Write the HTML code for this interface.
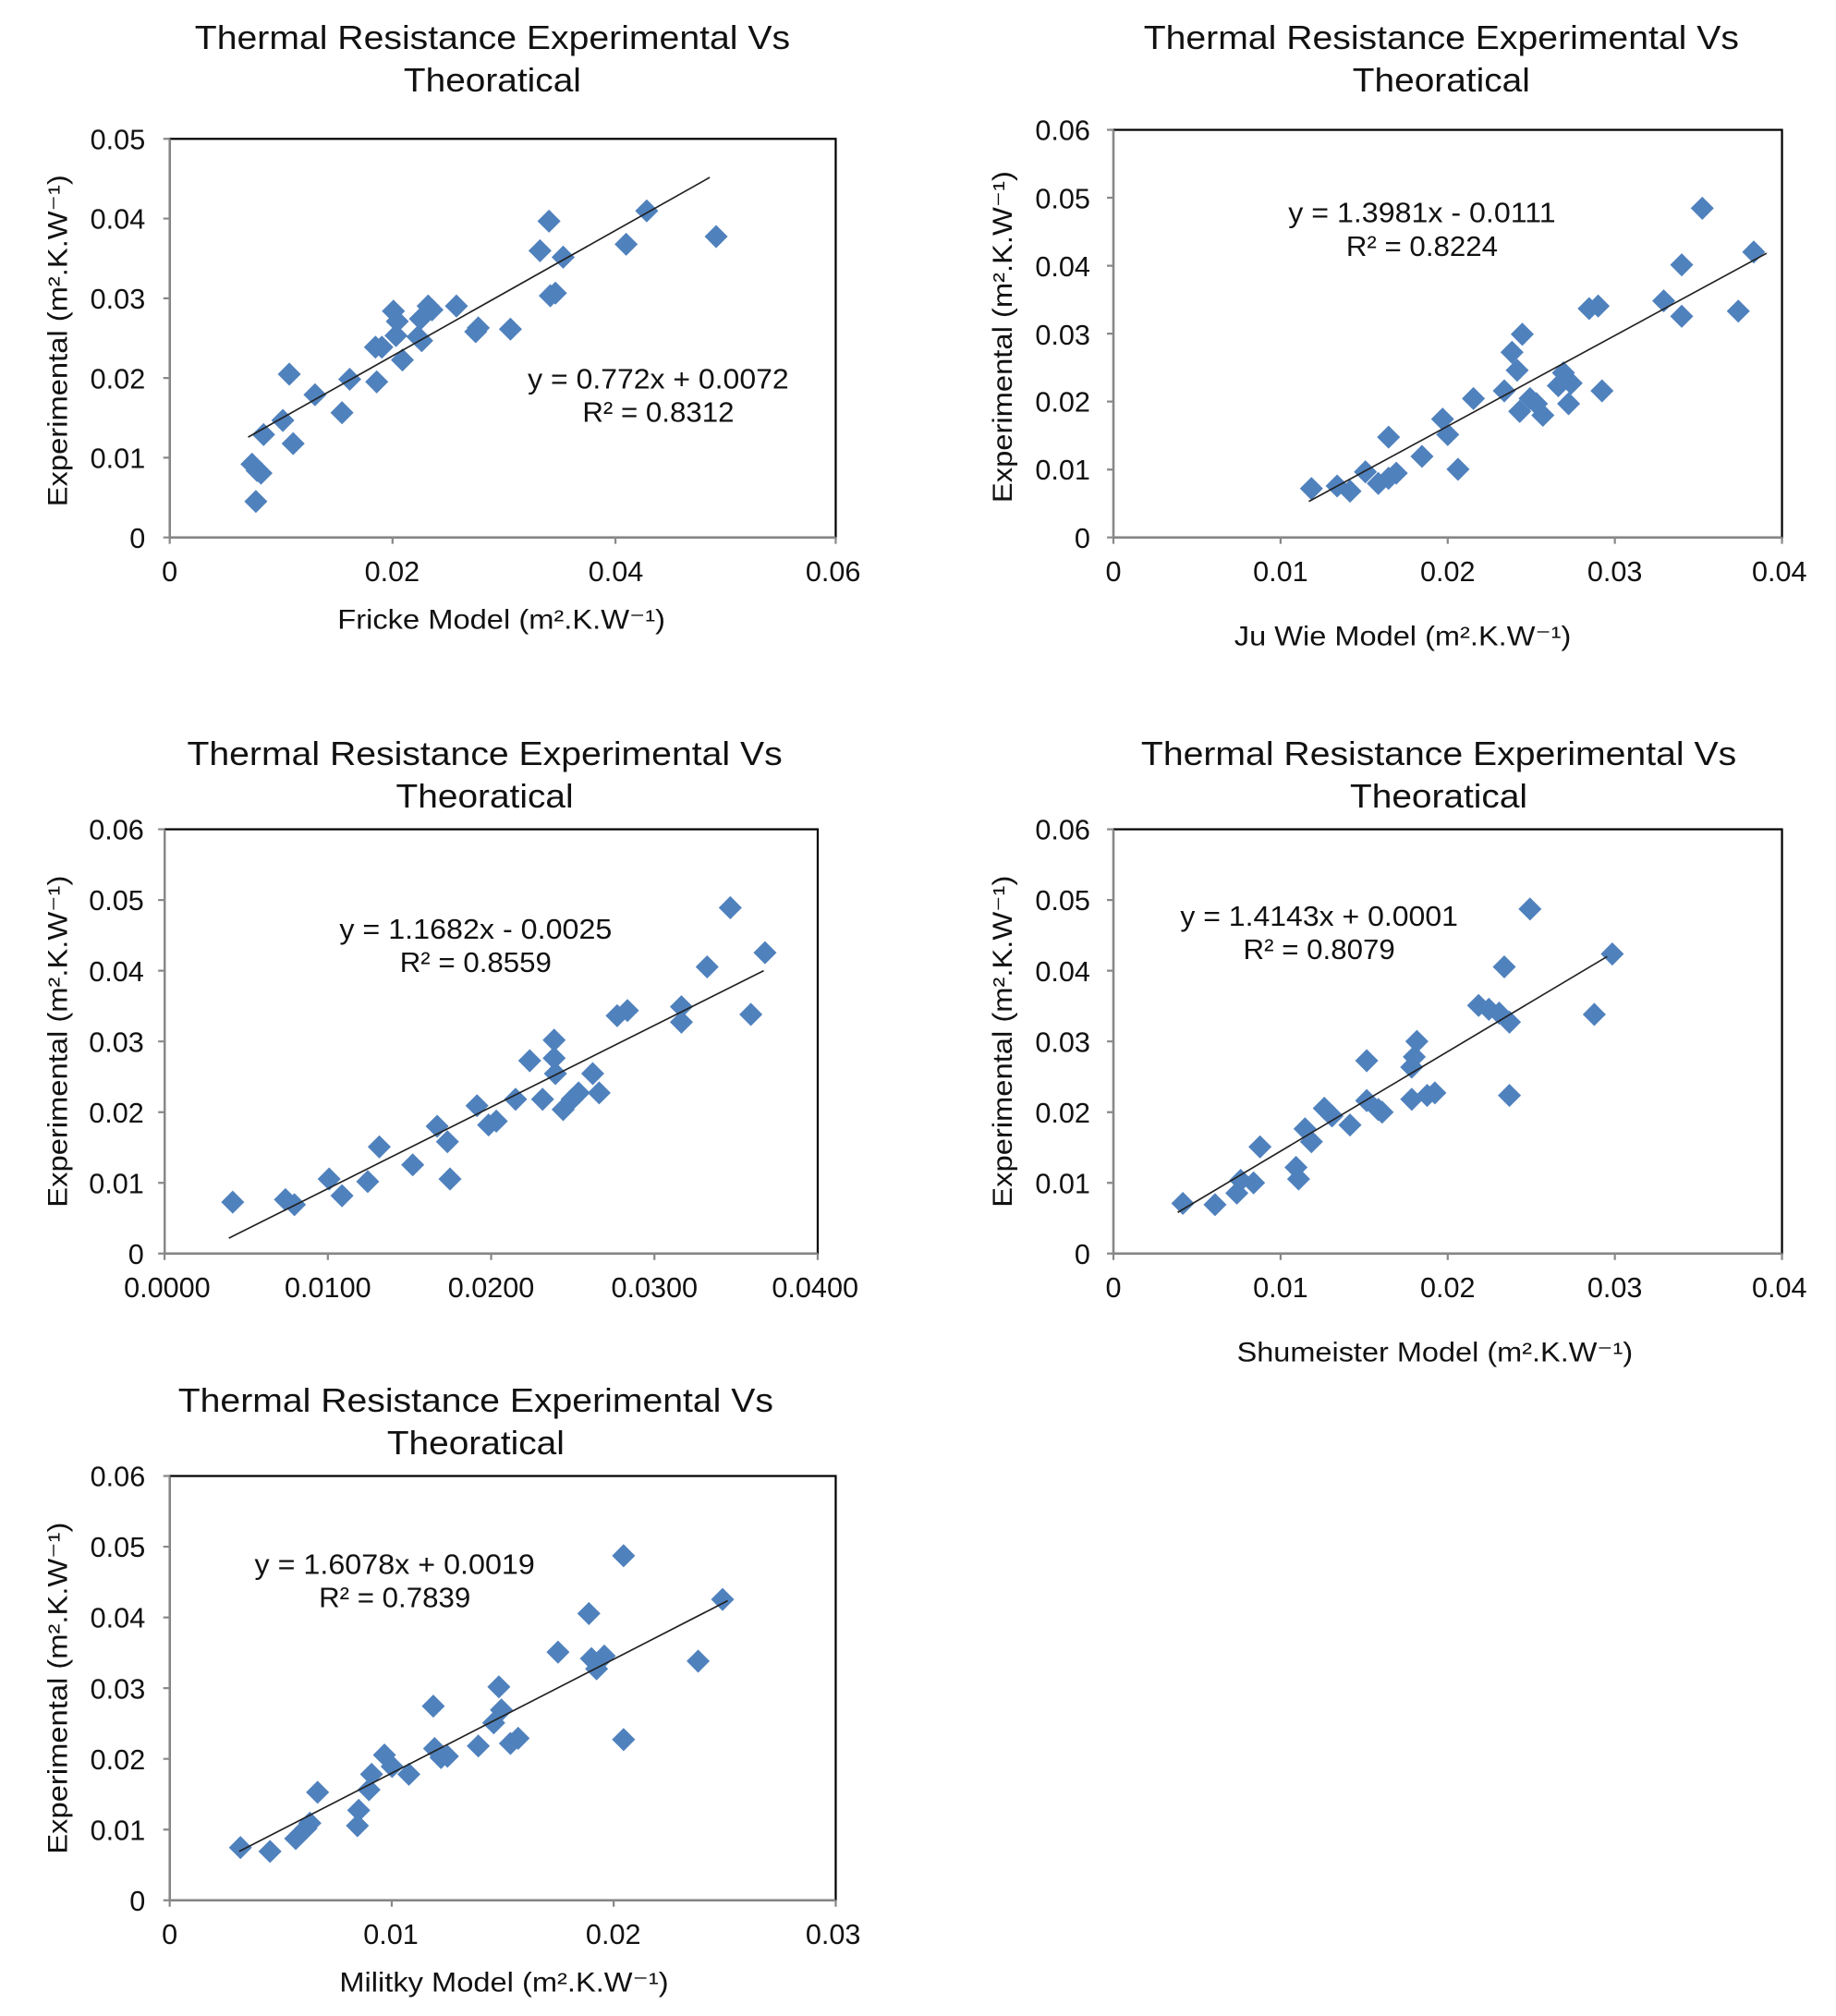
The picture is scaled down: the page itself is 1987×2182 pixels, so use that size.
<!DOCTYPE html>
<html><head><meta charset="utf-8"><style>html,body{margin:0;padding:0;background:#fff}svg{display:block}</style></head>
<body>
<svg width="1987" height="2182" viewBox="0 0 1428 1568" preserveAspectRatio="none" xmlns="http://www.w3.org/2000/svg" font-family="'Liberation Sans', sans-serif" fill="#111">
<defs>
<path id="d" d="M0,-9 L9,0 L0,9 L-9,0 Z" fill="#4f81bd"/>
</defs>
<style>
.t{font-size:26px;text-anchor:middle}
.ky{font-size:22px;text-anchor:end}
.kx{font-size:22px;text-anchor:middle}
.al{font-size:21px;text-anchor:middle}
.eq{font-size:22px;text-anchor:middle}
.box{fill:none;stroke:#000;stroke-width:1.6}
.ax{stroke:#888;stroke-width:1.6;fill:none}
.tr{stroke:#222;stroke-width:1.2}
</style>

<!-- Chart 1 -->
<text class="t" x="383" y="38" textLength="463" lengthAdjust="spacingAndGlyphs">Thermal Resistance Experimental Vs</text>
<text class="t" x="383" y="71" textLength="138" lengthAdjust="spacingAndGlyphs">Theoratical</text>
<rect class="box" x="132" y="108" width="518" height="310"/>
<path class="ax" d="M132,108 V418 H650 M127,108H132 M127,170H132 M127,232H132 M127,294H132 M127,356H132 M127,418H132 M132,418V423 M305.3,418V423 M478.7,418V423 M650,418V423"/>
<g class="ky"><text x="113" y="116">0.05</text><text x="113" y="178">0.04</text><text x="113" y="240">0.03</text><text x="113" y="302">0.02</text><text x="113" y="364">0.01</text><text x="113" y="426">0</text></g>
<g class="kx"><text x="132" y="452">0</text><text x="305" y="452">0.02</text><text x="479" y="452">0.04</text><text x="648" y="452">0.06</text></g>
<text class="al" x="390" y="489" textLength="255" lengthAdjust="spacingAndGlyphs">Fricke Model (m².K.W⁻¹)</text>
<text class="al" transform="translate(52,265) rotate(-90)" textLength="258" lengthAdjust="spacingAndGlyphs">Experimental (m².K.W⁻¹)</text>
<g>
<use href="#d" x="196" y="361"/><use href="#d" x="200" y="366"/><use href="#d" x="203" y="368"/><use href="#d" x="199" y="390"/><use href="#d" x="205" y="338"/><use href="#d" x="220" y="327"/><use href="#d" x="225" y="291"/><use href="#d" x="228" y="345"/><use href="#d" x="245" y="307"/><use href="#d" x="272" y="295"/><use href="#d" x="266" y="321"/><use href="#d" x="293" y="297"/><use href="#d" x="292" y="270"/><use href="#d" x="297" y="270"/><use href="#d" x="308" y="261"/><use href="#d" x="313" y="280"/><use href="#d" x="306" y="242"/><use href="#d" x="309" y="250"/><use href="#d" x="325" y="262"/><use href="#d" x="327" y="248"/><use href="#d" x="328" y="265"/><use href="#d" x="336" y="241"/><use href="#d" x="333" y="238"/><use href="#d" x="355" y="238"/><use href="#d" x="370" y="258"/><use href="#d" x="372" y="255"/><use href="#d" x="397" y="256"/><use href="#d" x="420" y="195"/><use href="#d" x="427" y="172"/><use href="#d" x="428" y="230"/><use href="#d" x="432" y="228"/><use href="#d" x="438" y="200"/><use href="#d" x="487" y="190"/><use href="#d" x="503" y="164"/><use href="#d" x="557" y="184"/>
</g>
<line class="tr" x1="193" y1="340" x2="552" y2="138"/>
<text class="eq" x="512" y="302" textLength="203" lengthAdjust="spacingAndGlyphs">y = 0.772x + 0.0072</text>
<text class="eq" x="512" y="328" textLength="118" lengthAdjust="spacingAndGlyphs">R² = 0.8312</text>

<!-- Chart 2 -->
<text class="t" x="1121" y="38" textLength="463" lengthAdjust="spacingAndGlyphs">Thermal Resistance Experimental Vs</text>
<text class="t" x="1121" y="71" textLength="138" lengthAdjust="spacingAndGlyphs">Theoratical</text>
<rect class="box" x="866" y="101" width="520" height="317"/>
<path class="ax" d="M866,101 V418 H1386 M861,101H866 M861,153.8H866 M861,206.7H866 M861,259.5H866 M861,312.3H866 M861,365.2H866 M861,418H866 M866,418V423 M996,418V423 M1126,418V423 M1256,418V423 M1386,418V423"/>
<g class="ky"><text x="848" y="109">0.06</text><text x="848" y="162">0.05</text><text x="848" y="215">0.04</text><text x="848" y="268">0.03</text><text x="848" y="320">0.02</text><text x="848" y="373">0.01</text><text x="848" y="426">0</text></g>
<g class="kx"><text x="866" y="452">0</text><text x="996" y="452">0.01</text><text x="1126" y="452">0.02</text><text x="1256" y="452">0.03</text><text x="1384" y="452">0.04</text></g>
<text class="al" x="1091" y="502" textLength="262" lengthAdjust="spacingAndGlyphs">Ju Wie Model (m².K.W⁻¹)</text>
<text class="al" transform="translate(787,262) rotate(-90)" textLength="258" lengthAdjust="spacingAndGlyphs">Experimental (m².K.W⁻¹)</text>
<g>
<use href="#d" x="1020" y="380"/><use href="#d" x="1040" y="378"/><use href="#d" x="1050" y="382"/><use href="#d" x="1062" y="367"/><use href="#d" x="1072" y="376"/><use href="#d" x="1080" y="340"/><use href="#d" x="1080" y="372"/><use href="#d" x="1086" y="368"/><use href="#d" x="1106" y="355"/><use href="#d" x="1122" y="326"/><use href="#d" x="1126" y="338"/><use href="#d" x="1134" y="365"/><use href="#d" x="1146" y="310"/><use href="#d" x="1170" y="304"/><use href="#d" x="1176" y="274"/><use href="#d" x="1180" y="288"/><use href="#d" x="1184" y="260"/><use href="#d" x="1182" y="320"/><use href="#d" x="1190" y="310"/><use href="#d" x="1195" y="314"/><use href="#d" x="1200" y="323"/><use href="#d" x="1212" y="300"/><use href="#d" x="1216" y="290"/><use href="#d" x="1220" y="314"/><use href="#d" x="1222" y="298"/><use href="#d" x="1236" y="240"/><use href="#d" x="1243" y="238"/><use href="#d" x="1246" y="304"/><use href="#d" x="1294" y="234"/><use href="#d" x="1308" y="206"/><use href="#d" x="1308" y="246"/><use href="#d" x="1324" y="162"/><use href="#d" x="1352" y="242"/><use href="#d" x="1364" y="196"/>
</g>
<line class="tr" x1="1018" y1="390" x2="1374" y2="197"/>
<text class="eq" x="1106" y="173" textLength="208" lengthAdjust="spacingAndGlyphs">y = 1.3981x - 0.0111</text>
<text class="eq" x="1106" y="199" textLength="118" lengthAdjust="spacingAndGlyphs">R² = 0.8224</text>

<!-- Chart 3 -->
<text class="t" x="377" y="595" textLength="463" lengthAdjust="spacingAndGlyphs">Thermal Resistance Experimental Vs</text>
<text class="t" x="377" y="628" textLength="138" lengthAdjust="spacingAndGlyphs">Theoratical</text>
<rect class="box" x="128" y="645" width="508" height="330"/>
<path class="ax" d="M128,645 V975 H636 M123,645H128 M123,700H128 M123,755H128 M123,810H128 M123,865H128 M123,920H128 M123,975H128 M128,975V980 M255,975V980 M382,975V980 M509,975V980 M636,975V980"/>
<g class="ky"><text x="112" y="653">0.06</text><text x="112" y="708">0.05</text><text x="112" y="763">0.04</text><text x="112" y="818">0.03</text><text x="112" y="873">0.02</text><text x="112" y="928">0.01</text><text x="112" y="983">0</text></g>
<g class="kx"><text x="130" y="1009">0.0000</text><text x="255" y="1009">0.0100</text><text x="382" y="1009">0.0200</text><text x="509" y="1009">0.0300</text><text x="634" y="1009">0.0400</text></g>
<text class="al" transform="translate(52,810) rotate(-90)" textLength="258" lengthAdjust="spacingAndGlyphs">Experimental (m².K.W⁻¹)</text>
<g>
<use href="#d" x="181" y="935"/><use href="#d" x="222" y="933"/><use href="#d" x="229" y="937"/><use href="#d" x="256" y="917"/><use href="#d" x="266" y="930"/><use href="#d" x="286" y="919"/><use href="#d" x="295" y="892"/><use href="#d" x="321" y="906"/><use href="#d" x="340" y="876"/><use href="#d" x="350" y="917"/><use href="#d" x="348" y="888"/><use href="#d" x="371" y="860"/><use href="#d" x="380" y="875"/><use href="#d" x="386" y="872"/><use href="#d" x="401" y="855"/><use href="#d" x="412" y="825"/><use href="#d" x="422" y="855"/><use href="#d" x="431" y="823"/><use href="#d" x="431" y="809"/><use href="#d" x="432" y="835"/><use href="#d" x="438" y="863"/><use href="#d" x="445" y="855"/><use href="#d" x="450" y="850"/><use href="#d" x="461" y="835"/><use href="#d" x="466" y="850"/><use href="#d" x="480" y="790"/><use href="#d" x="488" y="786"/><use href="#d" x="530" y="783"/><use href="#d" x="530" y="795"/><use href="#d" x="550" y="752"/><use href="#d" x="568" y="706"/><use href="#d" x="584" y="789"/><use href="#d" x="595" y="741"/>
</g>
<line class="tr" x1="178" y1="963" x2="594" y2="755"/>
<text class="eq" x="370" y="730" textLength="212" lengthAdjust="spacingAndGlyphs">y = 1.1682x - 0.0025</text>
<text class="eq" x="370" y="756" textLength="118" lengthAdjust="spacingAndGlyphs">R² = 0.8559</text>

<!-- Chart 4 -->
<text class="t" x="1119" y="595" textLength="463" lengthAdjust="spacingAndGlyphs">Thermal Resistance Experimental Vs</text>
<text class="t" x="1119" y="628" textLength="138" lengthAdjust="spacingAndGlyphs">Theoratical</text>
<rect class="box" x="866" y="645" width="520" height="330"/>
<path class="ax" d="M866,645 V975 H1386 M861,645H866 M861,700H866 M861,755H866 M861,810H866 M861,865H866 M861,920H866 M861,975H866 M866,975V980 M996,975V980 M1126,975V980 M1256,975V980 M1386,975V980"/>
<g class="ky"><text x="848" y="653">0.06</text><text x="848" y="708">0.05</text><text x="848" y="763">0.04</text><text x="848" y="818">0.03</text><text x="848" y="873">0.02</text><text x="848" y="928">0.01</text><text x="848" y="983">0</text></g>
<g class="kx"><text x="866" y="1009">0</text><text x="996" y="1009">0.01</text><text x="1126" y="1009">0.02</text><text x="1256" y="1009">0.03</text><text x="1384" y="1009">0.04</text></g>
<text class="al" x="1116" y="1059" textLength="308" lengthAdjust="spacingAndGlyphs">Shumeister Model (m².K.W⁻¹)</text>
<text class="al" transform="translate(787,810) rotate(-90)" textLength="258" lengthAdjust="spacingAndGlyphs">Experimental (m².K.W⁻¹)</text>
<g>
<use href="#d" x="920" y="936"/><use href="#d" x="945" y="937"/><use href="#d" x="962" y="928"/><use href="#d" x="965" y="918"/><use href="#d" x="975" y="920"/><use href="#d" x="980" y="892"/><use href="#d" x="1008" y="908"/><use href="#d" x="1010" y="917"/><use href="#d" x="1015" y="878"/><use href="#d" x="1020" y="888"/><use href="#d" x="1030" y="862"/><use href="#d" x="1036" y="868"/><use href="#d" x="1050" y="875"/><use href="#d" x="1063" y="825"/><use href="#d" x="1063" y="856"/><use href="#d" x="1072" y="863"/><use href="#d" x="1075" y="865"/><use href="#d" x="1098" y="855"/><use href="#d" x="1098" y="830"/><use href="#d" x="1100" y="822"/><use href="#d" x="1102" y="810"/><use href="#d" x="1110" y="852"/><use href="#d" x="1116" y="850"/><use href="#d" x="1150" y="782"/><use href="#d" x="1158" y="785"/><use href="#d" x="1166" y="788"/><use href="#d" x="1170" y="752"/><use href="#d" x="1174" y="795"/><use href="#d" x="1174" y="852"/><use href="#d" x="1190" y="707"/><use href="#d" x="1240" y="789"/><use href="#d" x="1254" y="742"/>
</g>
<line class="tr" x1="916" y1="943" x2="1250" y2="744"/>
<text class="eq" x="1026" y="720" textLength="216" lengthAdjust="spacingAndGlyphs">y = 1.4143x + 0.0001</text>
<text class="eq" x="1026" y="746" textLength="118" lengthAdjust="spacingAndGlyphs">R² = 0.8079</text>

<!-- Chart 5 -->
<text class="t" x="370" y="1098" textLength="463" lengthAdjust="spacingAndGlyphs">Thermal Resistance Experimental Vs</text>
<text class="t" x="370" y="1131" textLength="138" lengthAdjust="spacingAndGlyphs">Theoratical</text>
<rect class="box" x="132" y="1148" width="518" height="330"/>
<path class="ax" d="M132,1148 V1478 H650 M127,1148H132 M127,1203H132 M127,1258H132 M127,1313H132 M127,1368H132 M127,1423H132 M127,1478H132 M132,1478V1483 M304.7,1478V1483 M477.3,1478V1483 M650,1478V1483"/>
<g class="ky"><text x="113" y="1156">0.06</text><text x="113" y="1211">0.05</text><text x="113" y="1266">0.04</text><text x="113" y="1321">0.03</text><text x="113" y="1376">0.02</text><text x="113" y="1431">0.01</text><text x="113" y="1486">0</text></g>
<g class="kx"><text x="132" y="1512">0</text><text x="304" y="1512">0.01</text><text x="477" y="1512">0.02</text><text x="648" y="1512">0.03</text></g>
<text class="al" x="392" y="1549" textLength="256" lengthAdjust="spacingAndGlyphs">Militky Model (m².K.W⁻¹)</text>
<text class="al" transform="translate(52,1313) rotate(-90)" textLength="258" lengthAdjust="spacingAndGlyphs">Experimental (m².K.W⁻¹)</text>
<g>
<use href="#d" x="187" y="1437"/><use href="#d" x="210" y="1440"/><use href="#d" x="230" y="1430"/><use href="#d" x="238" y="1422"/><use href="#d" x="241" y="1418"/><use href="#d" x="247" y="1394"/><use href="#d" x="278" y="1420"/><use href="#d" x="279" y="1408"/><use href="#d" x="287" y="1392"/><use href="#d" x="289" y="1380"/><use href="#d" x="299" y="1365"/><use href="#d" x="305" y="1374"/><use href="#d" x="318" y="1380"/><use href="#d" x="337" y="1327"/><use href="#d" x="338" y="1360"/><use href="#d" x="343" y="1367"/><use href="#d" x="348" y="1366"/><use href="#d" x="372" y="1358"/><use href="#d" x="384" y="1340"/><use href="#d" x="388" y="1312"/><use href="#d" x="390" y="1330"/><use href="#d" x="397" y="1356"/><use href="#d" x="403" y="1352"/><use href="#d" x="434" y="1285"/><use href="#d" x="458" y="1255"/><use href="#d" x="460" y="1290"/><use href="#d" x="464" y="1298"/><use href="#d" x="470" y="1288"/><use href="#d" x="485" y="1353"/><use href="#d" x="485" y="1210"/><use href="#d" x="543" y="1292"/><use href="#d" x="562" y="1244"/>
</g>
<line class="tr" x1="186" y1="1440" x2="566" y2="1245"/>
<text class="eq" x="307" y="1224" textLength="218" lengthAdjust="spacingAndGlyphs">y = 1.6078x + 0.0019</text>
<text class="eq" x="307" y="1250" textLength="118" lengthAdjust="spacingAndGlyphs">R² = 0.7839</text>
</svg>
</body></html>
